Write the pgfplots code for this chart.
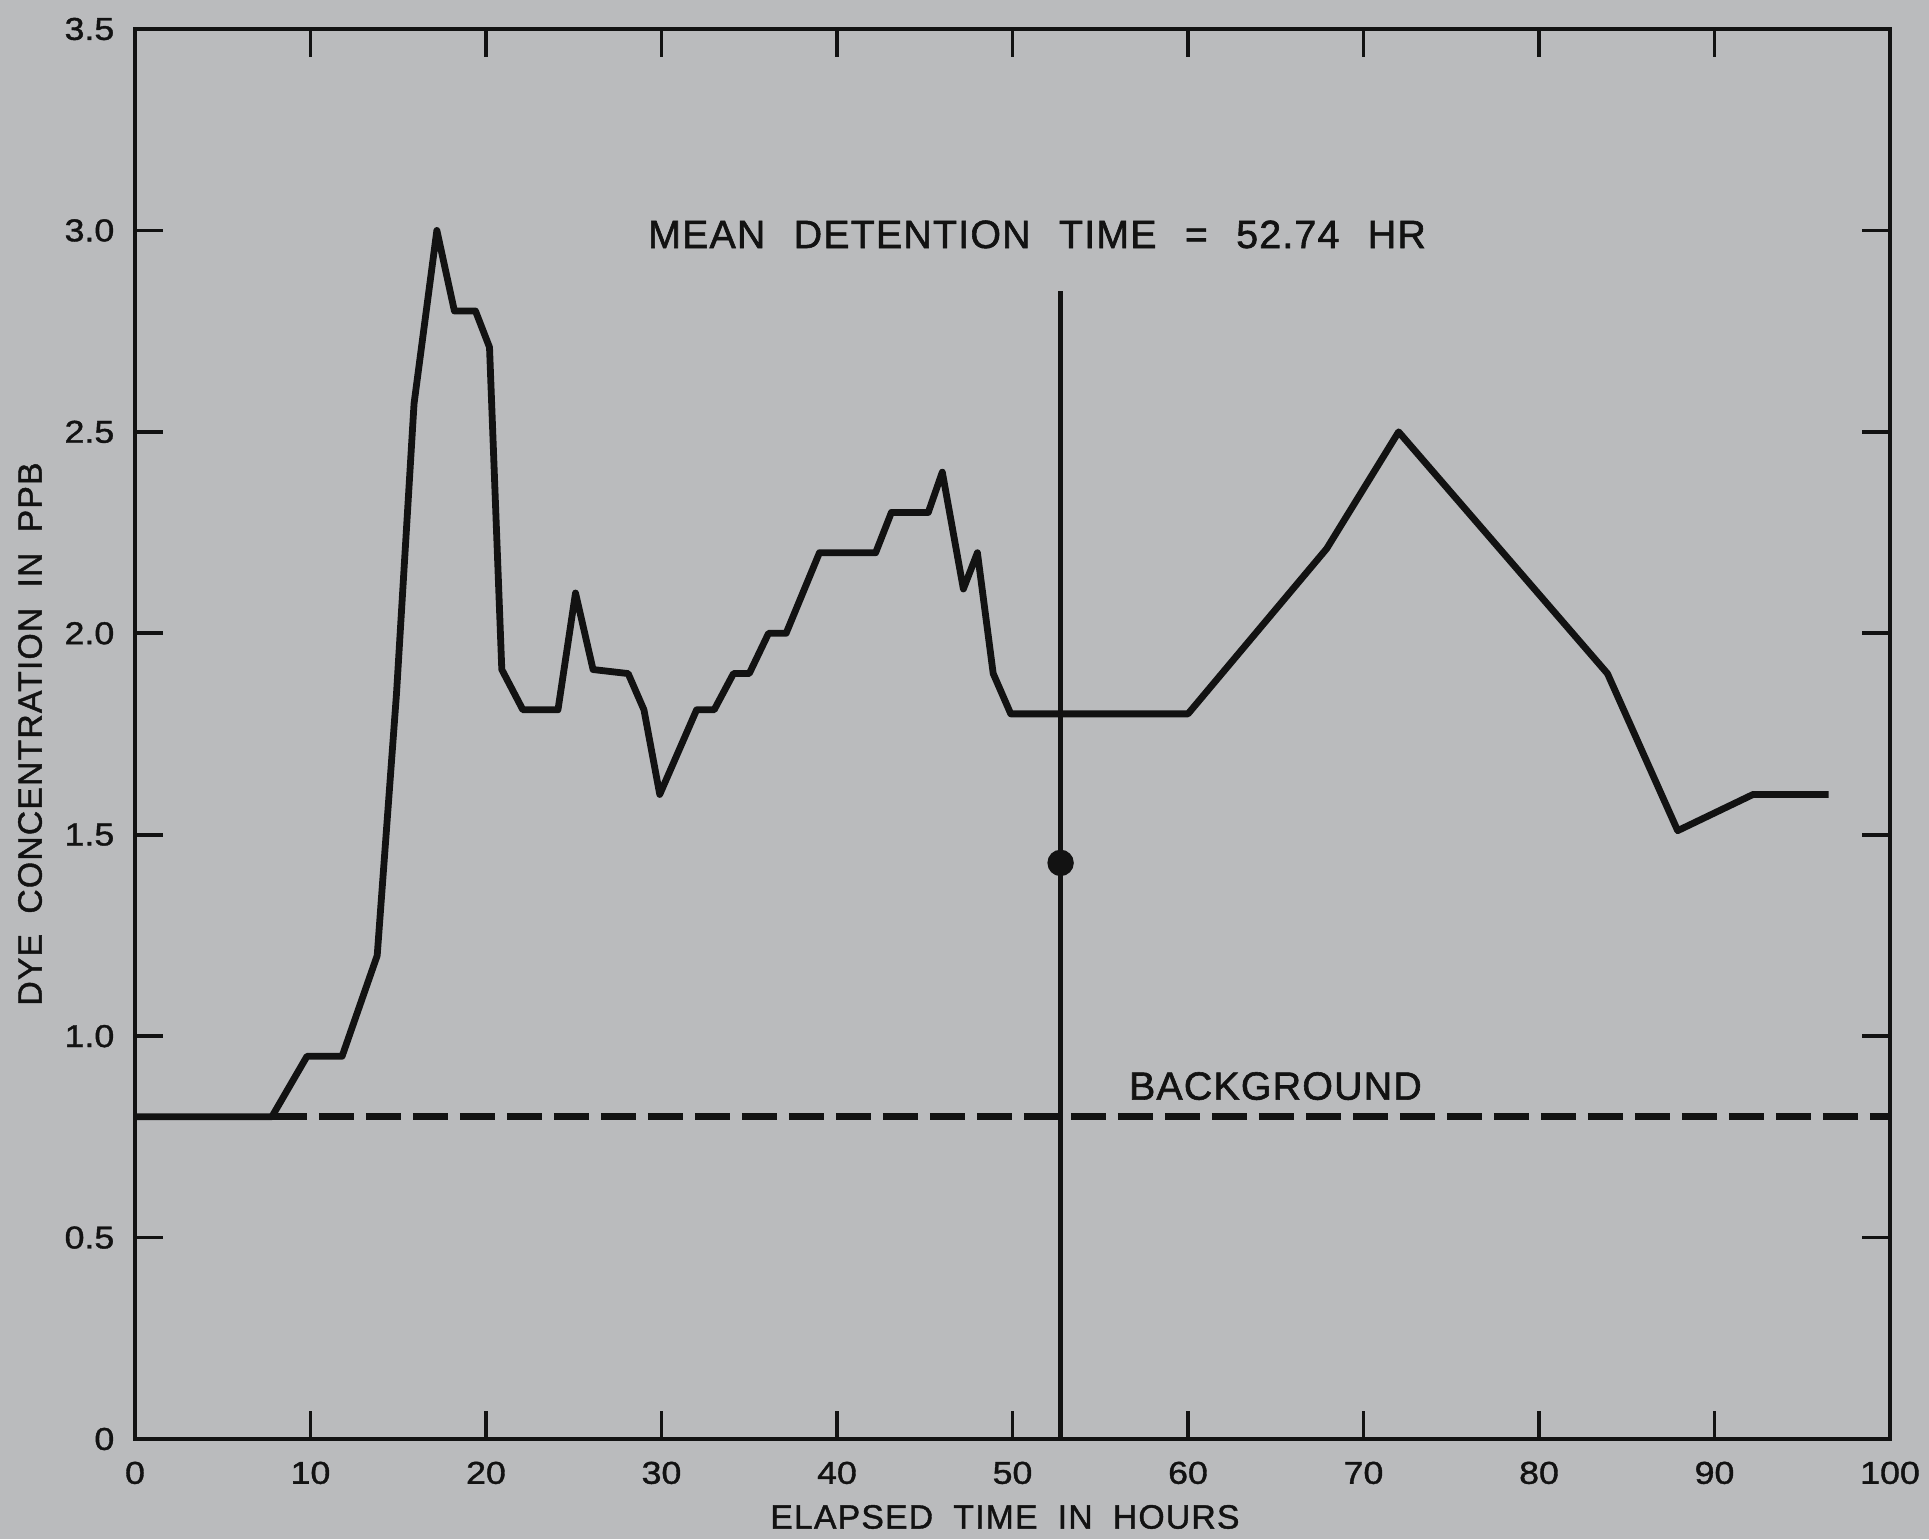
\documentclass[border=0pt]{standalone}
\usepackage{fontspec}
\setmainfont{Liberation Sans}
\newfontfamily\tickfont[FakeStretch=1.13, FakeBold=1.2]{Liberation Sans}
\newfontfamily\labfont[LetterSpace=3.5, FakeBold=1.2]{Liberation Sans}
\newfontfamily\titlefont[LetterSpace=3, FakeBold=1.5]{Liberation Sans}
\usepackage{pgfplots}
\pgfplotsset{compat=1.18}
\definecolor{bg}{RGB}{186,187,189}
\definecolor{ink}{RGB}{18,18,18}
\begin{document}
\begin{tikzpicture}
\path[use as bounding box, fill=bg] (0,0) rectangle (192.9mm,153.9mm);
\begin{axis}[
  at={(13.5mm,10mm)}, anchor=south west,
  scale only axis, width=175.5mm, height=141mm,
  xmin=0, xmax=100, ymin=0, ymax=3.5,
  xtick={0,10,20,30,40,50,60,70,80,90,100},
  xticklabels={0,10,20,30,40,50,60,70,80,90,100},
  ytick={0,0.5,1,1.5,2,2.5,3,3.5},
  yticklabels={0,0.5,1.0,1.5,2.0,2.5,3.0,3.5},
  tick align=inside, xtick pos=both, ytick pos=both,
  xticklabel pos=lower, yticklabel pos=left,
  major tick length=2.8mm,
  tick style={ink, line width=0.38mm},
  axis line style={ink, line width=0.45mm},
  xticklabel style={font=\tickfont\fontsize{9pt}{10pt}\selectfont, text=ink, anchor=north, inner sep=0pt, yshift=-2.2mm},
  yticklabel style={font=\tickfont\fontsize{9pt}{10pt}\selectfont, text=ink, anchor=east, inner sep=0pt, xshift=-2mm},
  xlabel={ELAPSED\hspace{0.6em}TIME\hspace{0.6em}IN\hspace{0.6em}HOURS},
  xlabel style={at={(axis description cs:0.4957,-0.0553)}, anchor=center, inner sep=0pt, text=ink, font=\labfont\fontsize{9.6pt}{11pt}\selectfont},
  ylabel={DYE\hspace{0.6em}CONCENTRATION\hspace{0.6em}IN\hspace{0.6em}PPB},
  ylabel style={at={(axis description cs:-0.0598,0.5)}, anchor=center, inner sep=0pt, text=ink, font=\labfont\fontsize{9.6pt}{11pt}\selectfont},
  clip=false,
]
\addplot[ink, line width=0.68mm, line join=round, mark=none] coordinates {
(0,0.80) (7.8,0.80) (9.8,0.95) (11.8,0.95) (13.8,1.20) (14.9,1.85) (15.9,2.57)
(17.2,3.00) (18.2,2.80) (19.4,2.80) (20.2,2.71) (20.9,1.91) (22.1,1.81)
(24.1,1.81) (25.1,2.10) (26.1,1.91) (28.1,1.90) (29.0,1.81) (29.9,1.60)
(32.0,1.81) (33.0,1.81) (34.1,1.90) (35.0,1.90) (36.1,2.00) (37.1,2.00)
(39.0,2.20) (42.2,2.20) (43.1,2.30) (45.2,2.30) (46.0,2.40) (47.2,2.11)
(48.0,2.20) (48.9,1.90) (49.9,1.80) (60.0,1.80) (67.9,2.21) (72.0,2.50)
(83.9,1.90) (87.9,1.51) (92.2,1.60) (96.5,1.60)
};
\addplot[ink, line width=0.68mm, dash pattern=on 3.5mm off 1.2mm, mark=none] coordinates {(7.8,0.8) (100,0.8)};
\addplot[ink, line width=0.48mm, mark=none] coordinates {(52.74,0) (52.74,2.85)};
\addplot[only marks, mark=*, mark size=1.25mm, ink, mark options={fill=ink}] coordinates {(52.74,1.43)};
\node[anchor=west, inner sep=0pt, text=ink, font=\titlefont\fontsize{11.2pt}{13pt}\selectfont] at (axis cs:29.2,2.99)
  {MEAN\hspace{0.72em}DETENTION\hspace{0.72em}TIME\hspace{0.72em}=\hspace{0.72em}52.74\hspace{0.72em}HR};
\node[anchor=west, inner sep=0pt, text=ink, font=\titlefont\fontsize{11.2pt}{13pt}\selectfont] at (axis cs:56.6,0.876) {BACKGROUND};
\end{axis}
\end{tikzpicture}
\end{document}
